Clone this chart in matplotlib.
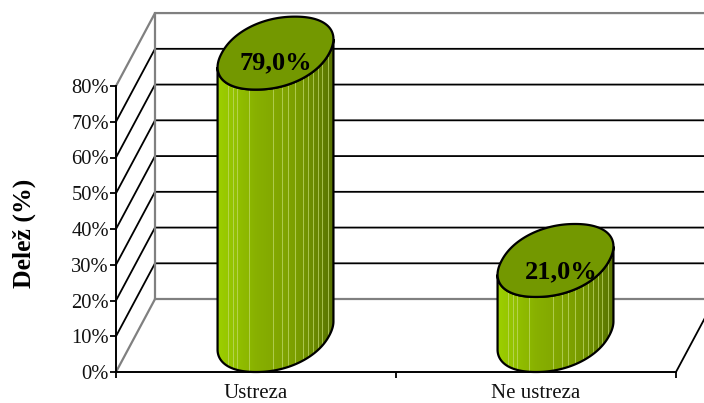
import numpy as np
import matplotlib
matplotlib.use("Agg")
import matplotlib.pyplot as plt
from matplotlib.colors import LinearSegmentedColormap
from matplotlib.patches import Polygon

plt.rcParams['font.family'] = ['Liberation Serif', 'DejaVu Serif']

categories = ["Ustreza", "Ne ustreza"]
values = [79.0, 21.0]
value_labels = ["79,0%", "21,0%"]
y_ticks = [0, 10, 20, 30, 40, 50, 60, 70, 80]
y_tick_labels = ["0%", "10%", "20%", "30%", "40%", "50%", "60%", "70%", "80%"]

# oblique depth of the 3D box, in data units
dx = 39 / 280
dy = 20.4
half_w = 0.192      # half of cylinder width along x
round_p = 0.93      # below 1 makes the cap fuller than an ellipse
label_shift = [(0, -7), (4, -8)]   # offset of value labels in points

# light stripes on the cylinder side, as a fraction of its width
stripes = [0.09, 0.13, 0.17, 0.27, 0.48, 0.555, 0.61, 0.665, 0.735, 0.78, 0.82, 0.865, 0.905, 0.95]

fig = plt.figure(figsize=(7.04, 4.03), dpi=100)
ax = fig.add_axes([116 / 704, 31 / 403, 560 / 704, 286 / 403])
ax.set_xlim(0, 2)
ax.set_ylim(0, 80)
ax.patch.set_alpha(0)
for s in ["top", "right"]:
    ax.spines[s].set_visible(False)
for s in ["left", "bottom"]:
    ax.spines[s].set_linewidth(1.4)
    ax.spines[s].set_zorder(6)

gray = "#808080"

# walls and grid
for v in y_ticks[1:-1]:
    ax.plot([0, dx, 2 + dx], [v, v + dy, v + dy], color="black", lw=1.3, clip_on=False, zorder=1)
ax.plot([0, dx, dx], [0, dy, 80 + dy], color=gray, lw=1.6, clip_on=False, zorder=1)
ax.plot([0, dx, 2 + dx], [80, 80 + dy, 80 + dy], color=gray, lw=1.6, clip_on=False, zorder=1)
ax.plot([dx, 2 + dx], [dy, dy], color=gray, lw=1.6, clip_on=False, zorder=1)
ax.plot([2, 2 + dx], [0, dy], color="black", lw=1.3, clip_on=False, zorder=1)

cmap = LinearSegmentedColormap.from_list("side", ["#9ccf00", "#88b000", "#7c9f00", "#587300"])
grad = np.linspace(0, 1, 256).reshape(1, -1)

# cap outline around its centre, walked from the left edge through the front to the right edge
tt = np.linspace(0, 2 * np.pi, 721)
cap_u = np.sign(np.cos(tt)) * np.abs(np.cos(tt)) ** round_p
cap_w = np.sign(np.sin(tt)) * np.abs(np.sin(tt)) ** round_p
cap_x = half_w * cap_u + dx / 2 * cap_w
cap_y = dy / 2 * cap_w
i_l = cap_x[:-1].argmin()
i_r = cap_x[:-1].argmax()
order = np.arange(i_l, i_r + 721 if i_r < i_l else i_r + 1) % 720
front_x = cap_x[order]
front_y = cap_y[order]

for i, v in enumerate(values):
    cx = i + 0.5 + dx / 2
    arc_x = cx + front_x
    arc_y = dy / 2 + front_y
    left, right = arc_x.min(), arc_x.max()

    # side of the cylinder
    body = np.column_stack([np.r_[arc_x, arc_x[::-1]], np.r_[arc_y, (arc_y + v)[::-1]]])
    outline = Polygon(body, closed=True, fc="none", ec="black", lw=1.6, clip_on=False, zorder=3)
    ax.add_patch(outline)
    im = ax.imshow(grad, cmap=cmap, extent=[left, right, 0, 110], aspect="auto", zorder=2)
    im.set_clip_box(fig.bbox)
    im.set_clip_path(outline)
    for f in stripes:
        sx = left + f * (right - left)
        ln, = ax.plot([sx, sx], [0, 110], color="#c4dc70", lw=0.7, alpha=0.7, zorder=2.5)
        ln.set_clip_box(fig.bbox)
        ln.set_clip_path(outline)

    # top of the cylinder
    ax.add_patch(Polygon(np.column_stack([cx + cap_x, v + dy / 2 + cap_y]), closed=True, fc="#739800",
                         ec="black", lw=1.6, clip_on=False, zorder=4))
    ax.annotate(value_labels[i], (cx, v + dy / 2), xytext=label_shift[i], textcoords="offset points",
                ha="center", va="center", fontsize=19, fontweight="bold", color="black", zorder=5,
                annotation_clip=False)

ax.set_xlim(0, 2)
ax.set_ylim(0, 80)
ax.set_xticks([0, 1, 2])
ax.set_xticklabels([])
ax.set_xticks([0.5, 1.5], categories, minor=True)
ax.tick_params(axis="x", which="major", length=4, width=1.3, direction="out")
ax.tick_params(axis="x", which="minor", length=0, labelsize=15, pad=8.5, labelcolor="#111111")
ax.set_yticks(y_ticks, y_tick_labels)
ax.tick_params(axis="y", length=4, width=1.3, labelsize=14.8, pad=1, labelcolor="#111111")

fig.text(24 / 704, 1 - 233 / 403, "Delež (%)", rotation=90, ha="center", va="center",
         fontsize=18.5, fontweight="bold")

fig.savefig("out.png", dpi=100)
